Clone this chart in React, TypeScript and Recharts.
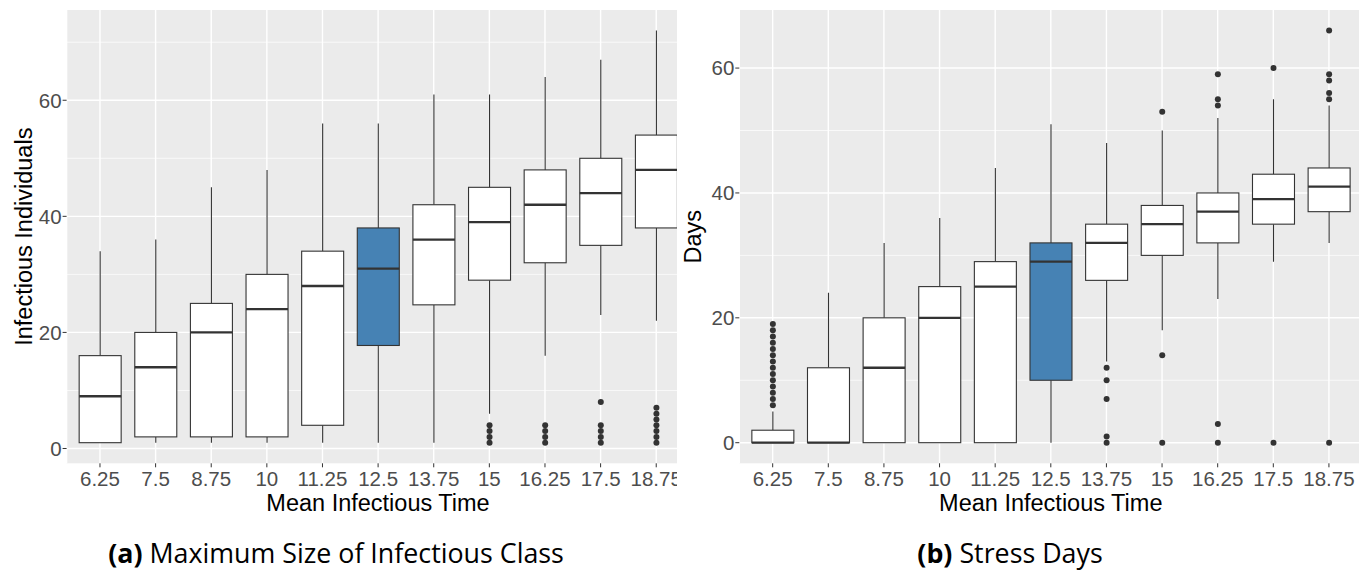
import { Bar, CartesianGrid, ComposedChart, XAxis, YAxis } from "recharts";

const categories = ["6.25", "7.5", "8.75", "10", "11.25", "12.5", "13.75", "15", "16.25", "17.5", "18.75"];

// (a) maximum size of infectious class
const lowA = [1, 1, 1, 1, 1, 1, 1, 6, 16, 23, 22];
const q1A = [1, 2, 2, 2, 4, 17.75, 24.75, 29, 32, 35, 38];
const medA = [9, 14, 20, 24, 28, 31, 36, 39, 42, 44, 48];
const q3A = [16, 20, 25, 30, 34, 38, 42, 45, 48, 50, 54];
const highA = [34, 36, 45, 48, 56, 56, 61, 61, 64, 67, 72];
const outA = [[], [], [], [], [], [], [], [4, 3, 2, 1], [4, 3, 2, 1], [8, 4, 3, 2, 1], [7, 6, 5, 4, 3, 2, 1]];

// (b) stress days
const lowB = [0, 0, 0, 0, 0, 0, 13, 18, 23, 29, 32];
const q1B = [0, 0, 0, 0, 0, 10, 26, 30, 32, 35, 37];
const medB = [0, 0, 12, 20, 25, 29, 32, 35, 37, 39, 41];
const q3B = [2, 12, 20, 25, 29, 32, 35, 38, 40, 43, 44];
const highB = [5, 24, 32, 36, 44, 51, 48, 50, 52, 55, 54];
const outB = [
  [6, 7, 8, 9, 10, 11, 12, 13, 14, 15, 16, 17, 18, 19],
  [], [], [], [], [],
  [12, 10, 7, 1, 0],
  [53, 14, 0],
  [59, 55, 54, 3, 0],
  [60, 0],
  [66, 59, 58, 56, 55, 0],
];

const yTicks = [0, 20, 40, 60];
const highlighted = "12.5";

const buildRows = (low: number[], q1: number[], med: number[], q3: number[], high: number[], out: number[][]) =>
  categories.map((cat, i) => ({
    cat,
    range: [low[i], high[i]],
    low: low[i],
    q1: q1[i],
    med: med[i],
    q3: q3[i],
    high: high[i],
    out: out[i],
  }));

const dataA = buildRows(lowA, q1A, medA, q3A, highA, outA);
const dataB = buildRows(lowB, q1B, medB, q3B, highB, outB);

const INK = "#333333";

// whiskers, box, median and outliers; positions come from the bar's own scaled range
const BoxShape = (props: any) => {
  const { x, y, width, height, payload } = props;
  const { low, q1, med, q3, high, out, cat } = payload;
  const yHi = y;
  const yLo = y + height;
  const py = (v: number) => yLo + ((v - low) / (high - low)) * (yHi - yLo);
  const cx = x + width / 2;
  return (
    <g>
      <line x1={cx} x2={cx} y1={py(high)} y2={py(q3)} stroke={INK} strokeWidth={1.1} />
      <line x1={cx} x2={cx} y1={py(q1)} y2={py(low)} stroke={INK} strokeWidth={1.1} />
      <rect
        x={x}
        y={py(q3)}
        width={width}
        height={py(q1) - py(q3)}
        fill={cat === highlighted ? "#4682B4" : "#FFFFFF"}
        stroke={INK}
        strokeWidth={1.1}
      />
      <line x1={x} x2={x + width} y1={py(med)} y2={py(med)} stroke={INK} strokeWidth={2.3} />
      {out.map((v: number, i: number) => (
        <circle key={i} cx={cx} cy={py(v)} r={3} fill={INK} />
      ))}
    </g>
  );
};

const tickStyle = { fill: "#4D4D4D", fontSize: 20.5, fontFamily: "Liberation Sans, Arial, sans-serif" };

function BoxPanel({
  data,
  domain,
  minor,
  axisWidth,
  rightMargin,
}: {
  data: any[];
  domain: [number, number];
  minor: number[];
  axisWidth: number;
  rightMargin: number;
}) {
  return (
    <ComposedChart
      width={700}
      height={500}
      data={data}
      margin={{ top: 10, right: rightMargin, bottom: 6.7, left: 0 }}
    >
      <CartesianGrid fill="#EBEBEB" stroke="#FFFFFF" strokeWidth={0.7} vertical={false} horizontalValues={minor} />
      <CartesianGrid stroke="#FFFFFF" strokeWidth={1.4} horizontalValues={yTicks} fillOpacity={0} />
      <XAxis
        dataKey="cat"
        type="category"
        height={30}
        padding={{ left: 5.56, right: 5.56 }}
        axisLine={false}
        tickLine={{ stroke: INK }}
        tickSize={4}
        tickMargin={4.5}
        tick={tickStyle}
        interval={0}
      />
      <YAxis
        type="number"
        domain={domain}
        ticks={yTicks}
        width={axisWidth}
        axisLine={false}
        tickLine={{ stroke: INK }}
        tickSize={4}
        tickMargin={1}
        tick={tickStyle}
        allowDataOverflow
      />
      <Bar dataKey="range" barSize={42} shape={BoxShape} isAnimationActive={false} />
    </ComposedChart>
  );
}

export default function App() {
  const titleFont = "Liberation Sans, Arial, sans-serif";
  const capFont = "'Open Sans', Lato, sans-serif";
  return (
    <div style={{ position: "fixed", left: 0, top: 0, width: 1359, height: 571, background: "#FFFFFF", overflow: "hidden" }}>
      <div style={{ position: "absolute", left: 0, top: 0, width: 677, height: 500, overflow: "hidden" }}>
        <BoxPanel data={dataA} domain={[-2.55, 75.55]} minor={[10, 30, 50, 70]} axisWidth={66.6} rightMargin={10.4} />
      </div>
      <div style={{ position: "absolute", left: 680, top: 0, width: 679, height: 500, overflow: "hidden" }}>
        <BoxPanel data={dataB} domain={[-3.3, 69.3]} minor={[10, 30, 50]} axisWidth={59.3} rightMargin={17.7} />
      </div>
      <svg width={1359} height={571} style={{ position: "absolute", left: 0, top: 0, pointerEvents: "none" }}>
        <g fontFamily={titleFont} fontSize={23.5} fill="#000000" textAnchor="middle">
          <text x={378} y={511}>Mean Infectious Time</text>
          <text x={1050.8} y={511}>Mean Infectious Time</text>
          <text transform="translate(32 236.7) rotate(-90)">Infectious Individuals</text>
          <text transform="translate(701 236.7) rotate(-90)">Days</text>
        </g>
        <g fontFamily={capFont} fontSize={26.8} fill="#000000" textAnchor="middle">
          <text x={336} y={563}>
            <tspan fontWeight="bold">(a)</tspan> Maximum Size of Infectious Class
          </text>
          <text x={1010} y={563}>
            <tspan fontWeight="bold">(b)</tspan> Stress Days
          </text>
        </g>
      </svg>
    </div>
  );
}
